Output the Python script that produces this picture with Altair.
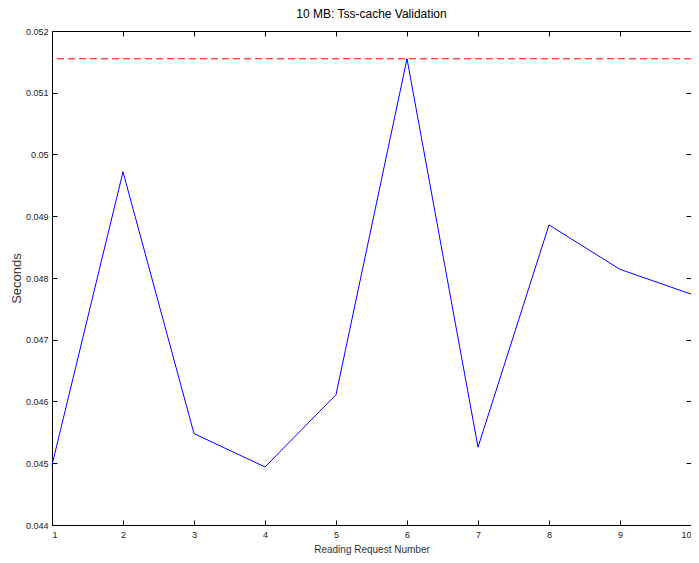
import altair as alt
import pandas as pd

request = [1, 2, 3, 4, 5, 6, 7, 8, 9, 10]
seconds = [0.04497, 0.04972, 0.04548, 0.04494, 0.04611, 0.05155, 0.04526, 0.04886, 0.04814, 0.04774]
threshold = [0.05155]
x_ticks = [1, 2, 3, 4, 5, 6, 7, 8, 9, 10]
y_ticks = [0.044, 0.045, 0.046, 0.047, 0.048, 0.049, 0.05, 0.051, 0.052]

df = pd.DataFrame({"request": request, "seconds": seconds})
thr = pd.DataFrame({"seconds": threshold})

FONT = "Liberation Sans, Arial, sans-serif"
xdom = [1, 10]
ydom = [0.044, 0.052]

common = dict(domainColor="black", tickColor="black", labelColor="#222222",
              grid=False, tickSize=alt.ExprRef(expr="-5"), labelFont=FONT,
              labelFontSize=9, titleFont=FONT,
              titleFontWeight="normal", titleColor="#333333")

line = alt.Chart(df).mark_line(color="#0000ff", strokeWidth=1).encode(
    x=alt.X("request:Q", scale=alt.Scale(domain=xdom, nice=False, zero=False),
            axis=alt.Axis(values=x_ticks, title="Reading Request Number",
                          labelPadding=10, titlePadding=5, titleFontSize=10,
                          format="d", **common)),
    y=alt.Y("seconds:Q", scale=alt.Scale(domain=ydom, nice=False, zero=False),
            axis=alt.Axis(values=y_ticks, title="Seconds", labelPadding=9,
                          titlePadding=2, titleFontSize=13,
                          labelExpr="replace(format(datum.value, '.3~f'), /^0\\.050$/, '0.05')",
                          **common)),
)

frame = alt.Chart(df).mark_line(opacity=0).encode(
    x=alt.X("request:Q", scale=alt.Scale(domain=xdom, nice=False, zero=False),
            axis=alt.Axis(values=x_ticks, orient="top", labels=False, title=None, **common)),
    y=alt.Y("seconds:Q", scale=alt.Scale(domain=ydom, nice=False, zero=False),
            axis=alt.Axis(values=y_ticks, orient="right", labels=False, title=None, **common)),
)

rule = alt.Chart(thr).mark_rule(color="#ff0000", strokeWidth=1, strokeDash=[7, 4]).encode(
    y=alt.Y("seconds:Q", scale=alt.Scale(domain=ydom, nice=False, zero=False), axis=None),
)

chart = alt.layer(line, frame, rule).resolve_scale(
    x="independent", y="independent"
).properties(
    width=639, height=494,
    title=alt.TitleParams("10 MB: Tss-cache Validation", font=FONT, fontSize=12,
                          fontWeight="normal", color="black", offset=6, anchor="middle"),
    autosize=alt.AutoSizeParams(type="none"),
    padding={"left": 44, "top": 23, "right": 0, "bottom": 30},
).configure_view(stroke="black", strokeWidth=1).configure(background="white")

chart.save("out.html", embed_options={"renderer": "svg", "actions": False})
